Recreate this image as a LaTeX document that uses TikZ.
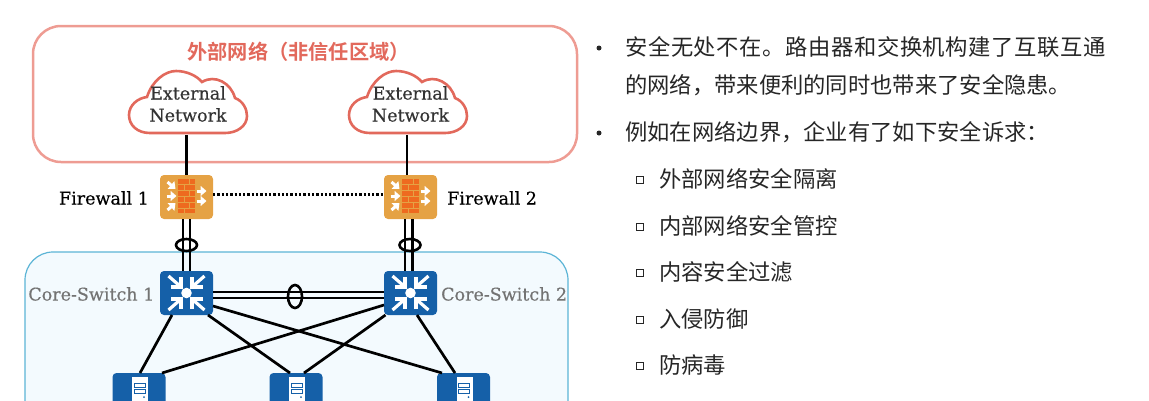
\documentclass[tikz,border=0pt]{standalone}
\usepackage{fontspec}
\setmainfont{DejaVu Serif}
\newfontfamily\labf[FakeBold=0.35]{DejaVu Serif}
\newfontfamily\cjk{Noto Sans CJK SC}
\newfontfamily\cjkb{Noto Sans CJK SC Bold}
\usetikzlibrary{arrows.meta}
\definecolor{blueic}{HTML}{1560A8}
\definecolor{orangeic}{HTML}{E5A244}
\definecolor{brick}{HTML}{EE6A1F}
\definecolor{cloudred}{HTML}{E2695C}
\definecolor{pinkb}{HTML}{EE9C93}
\definecolor{corefill}{HTML}{F3FAFE}
\definecolor{coreline}{HTML}{5BB4D6}
\tikzset{
  x=1pt,y=-1pt,
  iconbox/.style={minimum width=53pt,minimum height=44pt,inner sep=0pt,rounded corners=4pt,outer sep=0pt},
  fwbox/.style={iconbox,fill=orangeic},
  swbox/.style={iconbox,fill=blueic},
  srvbox/.style={iconbox,fill=blueic},
  link/.style={line width=2.7pt,black},
  bundle/.style={draw=black,line width=2.6pt,circle,inner sep=0pt,minimum size=10pt},
  cloudtxt/.style={align=center,font=\labf\fontsize{17.5}{22}\selectfont,text=black!80,inner sep=0pt,minimum width=118pt,minimum height=62pt},
  lab/.style={font=\labf\fontsize{17.5}{22}\selectfont,inner sep=0pt},
  body/.style={font=\cjk\fontsize{22.3}{26}\selectfont,anchor=west,inner sep=0pt,text=black!85},
  bul/.style={circle,fill=black!85,inner sep=0pt,minimum size=5pt},
  sqb/.style={draw=black!85,line width=1.3pt,inner sep=0pt,minimum size=7pt},
  wa/.style={-{Triangle[width=10pt,length=6pt]},white,line width=3pt},
}
\newcommand{\cloudshape}[2]{%
  \begin{scope}[shift={(#1,#2)}]
  \draw[cloudred,line width=2.6pt,fill=white]
    (21,62) .. controls (8,62) and (0,54) .. (0,44)
    .. controls (0,34) and (9,27) .. (18,26)
    .. controls (23,10) and (36,0) .. (47,0)
    .. controls (58,0) and (68,5) .. (73,11)
    .. controls (86,3) and (102,12) .. (106,27)
    .. controls (114,30) and (118,38) .. (118,45)
    .. controls (118,55) and (108,62) .. (96,62) -- cycle;
  \end{scope}}
\newcommand{\fwicon}[2]{%
  \begin{scope}[shift={(#1,#2)}]
  \fill[brick] (-8.5,-18) rectangle (8.5,16);
  \foreach \yy in {-13,-7,-1,5,11} \draw[orangeic,line width=0.7pt] (-8.5,\yy) -- (8.5,\yy);
  \foreach \yy in {-10,2,14} \draw[orangeic,line width=0.7pt] (-2,\yy-3) -- (-2,\yy+3);
  \foreach \yy in {-16,-4,8} \draw[orangeic,line width=0.7pt] (3,\yy-3) -- (3,\yy+3);
  \draw[wa] (-19,-15) -- (-11,-8);
  \draw[wa] (-20,-1) -- (-10,-1);
  \draw[wa] (-19,13) -- (-11,6);
  \draw[wa] (10,-6) -- (20,-6);
  \draw[wa] (10,4) -- (20,4);
  \end{scope}}
\newcommand{\swcorner}[2]{%
  \draw[white,line width=3.2pt,miter limit=10] (#1*5.5,#2*16) -- (#1*5.5,#2*6) -- (#1*16,#2*6);
  \draw[white,line width=3.2pt] (#1*6,#2*6.5) -- (#1*18,#2*17);}
\newcommand{\swicon}[2]{%
  \begin{scope}[shift={(#1,#2)}]
  \fill[white] (0,0) circle (5.3pt);
  \swcorner{-1}{-1}\swcorner{1}{-1}\swcorner{-1}{1}\swcorner{1}{1}
  \end{scope}}
\newcommand{\srvicon}[2]{%
  \begin{scope}[shift={(#1,#2)}]
  \fill[white] (-7,-18) rectangle (9,20);
  \draw[blueic,line width=1pt] (-5,-12) rectangle (6,-8);
  \draw[blueic,line width=1pt] (-5,-6) rectangle (6,-2);
  \fill[blueic] (5,2) circle (1pt);
  \end{scope}}
\begin{document}
\begin{tikzpicture}
\useasboundingbox (0,0) rectangle (1149,400);
\clip (0,0) rectangle (1149,400);
% regions
\draw[pinkb,line width=2.5pt,rounded corners=28pt] (33,26) rectangle (577,162);
\draw[coreline,fill=corefill,line width=1.2pt,rounded corners=28pt] (25,252) rectangle (568,470);
\node[font=\cjkb\fontsize{20.2}{22}\selectfont,text=cloudred,inner sep=0pt] (title) at (298.5,51.5) {外部网络（非信任区域）};
% clouds
\cloudshape{129}{71}
\cloudshape{349}{71}
\node[cloudtxt] (c1) at (188,104) {External\\Network};
\node[cloudtxt] (c2) at (410.5,104) {External\\Network};
% icons
\node[fwbox] (f1) at (186.5,197) {};
\node[fwbox] (f2) at (410.5,197) {};
\node[swbox] (s1) at (186.5,293) {};
\node[swbox] (s2) at (410.5,293) {};
\node[srvbox] (v1) at (139,395) {};
\node[srvbox] (v2) at (296,395) {};
\node[srvbox] (v3) at (463.5,395) {};
\fwicon{186.5}{197}
\fwicon{410.5}{197}
\swicon{186.5}{293}
\swicon{410.5}{293}
\srvicon{139}{395}
\srvicon{296}{395}
\srvicon{463.5}{395}
% labels
\node[lab,anchor=east] (lf1) at (149,198) {Firewall 1};
\node[lab,anchor=west] (lf2) at (447,198) {Firewall 2};
\node[lab,anchor=east,text=black!55] (ls1) at (154.5,294) {Core-Switch 1};
\node[lab,anchor=west,text=black!55] (ls2) at (441,294) {Core-Switch 2};
% connectors
\draw[link] (f1.north |- c1.south) -- (f1.north);
\coordinate (c2b) at ([xshift=-3.5pt]f2.north);
\draw[link] (c2b |- c2.south) -- (c2b);
\draw[line width=2.3pt,dotted] ([yshift=2.5pt]f1.east) -- ([yshift=2.5pt]f2.west);
\draw[link] ([xshift=-3.5pt]f1.south) -- ([xshift=-3.5pt]s1.north);
\draw[link] ([xshift=3.5pt]f1.south) -- ([xshift=3.5pt]s1.north);
\draw[link] ([xshift=-5.5pt]f2.south) -- ([xshift=-5.5pt]s2.north);
\draw[link] ([xshift=2pt]f2.south) -- ([xshift=2pt]s2.north);
\draw[link] ([yshift=1pt]s1.east) -- ([yshift=1pt]s2.west);
\draw[link] ([yshift=-5pt]s1.east) -- ([yshift=-5pt]s2.west);
\node[bundle,xscale=2.1,yscale=1.2] (e1) at (186.5,245) {};
\node[bundle,xscale=2.1,yscale=1.2] (e2) at (410,245) {};
\node[bundle,xscale=1.4,yscale=2.3] (e3) at (295,296.5) {};
\draw[link] ([xshift=-14.5pt]s1.south) -- ([xshift=1pt]v1.north);
\draw[link] ([xshift=21.5pt]s1.south) -- ([xshift=-6pt]v2.north);
\draw[link] ([yshift=-13pt]s1.east) -- ([xshift=-21.5pt]v3.north);
\draw[link] ([yshift=-12pt]s2.west) -- ([xshift=23pt]v1.north);
\draw[link] ([xshift=-25pt]s2.south) -- ([xshift=8pt]v2.north);
\draw[link] ([xshift=6.5pt]s2.south) -- ([xshift=-8.5pt]v3.north);
% text
\node[bul] (b1) at (599,48) {};
\node[body,font=\cjk\fontsize{22.3}{26}\selectfont\addfontfeature{LetterSpace=2.7}] (t1) at (625,47) {安全无处不在。路由器和交换机构建了互联互通};
\node[body] (t2) at (625,85) {的网络，带来便利的同时也带来了安全隐患。};
\node[bul] (b2) at (599,133) {};
\node[body] (t3) at (625,132) {例如在网络边界，企业有了如下安全诉求：};
\foreach \nm/\yy/\tx in {a/179/外部网络安全隔离,b/226/内部网络安全管控,c/272/内容安全过滤,d/319/入侵防御,e/365/防病毒}{
  \node[sqb] (q\nm) at (640,\yy+1) {};
  \node[body] (u\nm) at (659,\yy) {\tx};
}
\end{tikzpicture}
\end{document}
